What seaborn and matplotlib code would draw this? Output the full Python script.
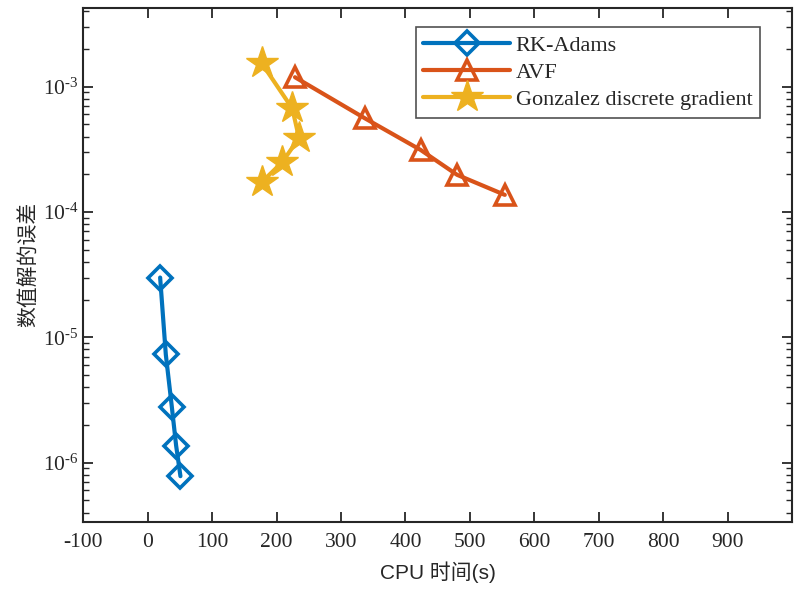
import numpy as np
import pandas as pd
import matplotlib
matplotlib.use("Agg")
import matplotlib.pyplot as plt
import seaborn as sns
from matplotlib.ticker import LogLocator, NullFormatter, FixedLocator, FuncFormatter

# ==========================================
# data
# ==========================================
rk_cpu = [19.4, 28.2, 37.5, 44.2, 50.9]
rk_err = [3.0e-5, 7.3e-6, 2.8e-6, 1.37e-6, 7.8e-7]

avf_cpu = [228.7, 337.0, 423.6, 480.3, 554.3]
avf_err = [1.19e-3, 5.6e-4, 3.13e-4, 1.98e-4, 1.37e-4]

gon_cpu = [177.0, 224.5, 234.9, 209.0, 178.0]
gon_err = [1.54e-3, 6.7e-4, 3.9e-4, 2.5e-4, 1.75e-4]

labels = ["RK-Adams", "AVF", "Gonzalez discrete gradient"]
xticks = [-100, 0, 100, 200, 300, 400, 500, 600, 700, 800, 900]

sns.set_style("ticks")
plt.rcParams['font.family'] = ['Liberation Serif', 'Noto Sans CJK SC']
plt.rcParams['mathtext.fontset'] = 'custom'
plt.rcParams['mathtext.rm'] = 'Liberation Serif'
plt.rcParams['mathtext.it'] = 'Liberation Serif:italic'
plt.rcParams['axes.unicode_minus'] = False

fig = plt.figure(figsize=(8, 5.91), dpi=100)
ax = fig.add_axes([0.104, 0.117, 0.886, 0.870])

# MATLAB default colours
c_blue, c_red, c_yel = "#0072BD", "#D95319", "#EDB120"

sns.lineplot(x=rk_cpu, y=rk_err, ax=ax, sort=False, color=c_blue, lw=3,
             marker="D", markersize=12.5, markerfacecolor="none",
             markeredgecolor=c_blue, markeredgewidth=2.6, label=labels[0])
sns.lineplot(x=avf_cpu, y=avf_err, ax=ax, sort=False, color=c_red, lw=3,
             marker="^", markersize=15, markerfacecolor="none",
             markeredgecolor=c_red, markeredgewidth=2.6, label=labels[1])
sns.lineplot(x=gon_cpu, y=gon_err, ax=ax, sort=False, color=c_yel, lw=3,
             marker="*", markersize=24, markerfacecolor=c_yel,
             markeredgecolor=c_yel, markeredgewidth=1.0, label=labels[2])


def dec_fmt(v, pos):
    # MATLAB style 10^-n with a plain hyphen
    e = int(round(np.log10(v)))
    sign = r"\text{-}" if e < 0 else ""
    return r"$10^{%s%d}$" % (sign, abs(e))


ax.set_yscale("log")
ax.set_xlim(-100, 1000)
ax.set_ylim(3.37e-7, 4.27e-3)
ax.xaxis.set_major_locator(FixedLocator(xticks))
ax.yaxis.set_major_locator(LogLocator(base=10, numticks=20))
ax.yaxis.set_major_formatter(FuncFormatter(dec_fmt))
ax.yaxis.set_minor_locator(LogLocator(base=10, subs=np.arange(2, 10), numticks=20))
ax.yaxis.set_minor_formatter(NullFormatter())

ax.tick_params(axis="both", which="major", direction="in", length=7, width=1.3,
               top=True, right=True, labelsize=15.5, colors="#262626")
ax.tick_params(axis="x", which="major", pad=8)
ax.tick_params(axis="y", which="major", pad=3)
ax.tick_params(axis="y", which="minor", direction="in", length=4, width=1.0,
               left=True, right=True)
for sp in ax.spines.values():
    sp.set_linewidth(1.5)
    sp.set_color("#262626")

ax.set_xlabel("CPU 时间(s)", fontsize=15, family=['Liberation Sans', 'Noto Sans CJK SC'],
              labelpad=7, color="#262626")
ax.set_ylabel("数值解的误差", fontsize=15, family=['Noto Sans CJK SC'], labelpad=2,
              color="#262626")

leg = ax.legend(loc="upper right", bbox_to_anchor=(0.955, 0.962), fontsize=16,
                handlelength=3.9, numpoints=1, fancybox=False, frameon=True,
                borderpad=0.35, labelspacing=0.3, handletextpad=0.25,
                borderaxespad=0)
leg.get_frame().set_edgecolor("#262626")
leg.get_frame().set_linewidth(1.2)

plt.savefig("out.png", dpi=100)
